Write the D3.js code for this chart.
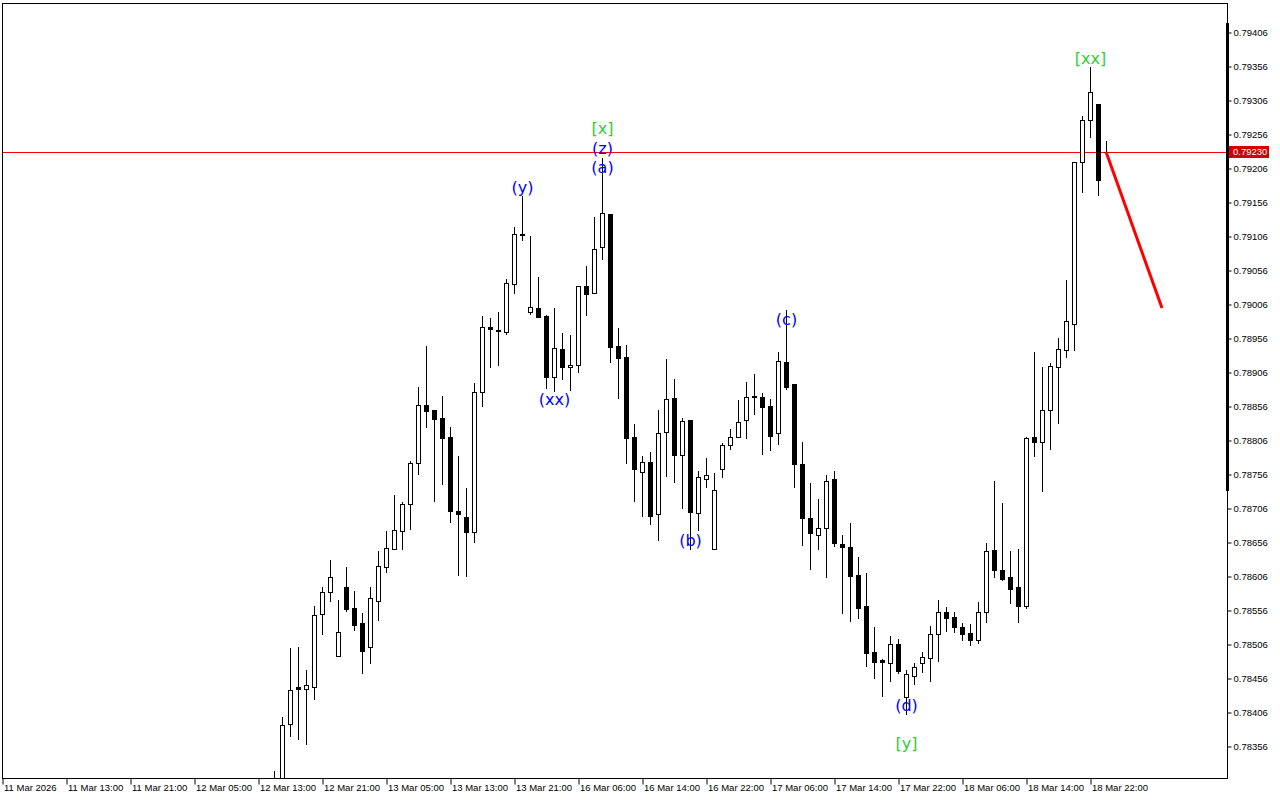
<!DOCTYPE html>
<html>
<head>
<meta charset="utf-8">
<script src="https://cdn.jsdelivr.net/npm/d3@7"></script>
<style>
  html, body { margin: 0; padding: 0; background: #ffffff; }
  svg { display: block; }
</style>
</head>
<body>
<svg id="chart" width="1280" height="800"></svg>
<script>
// ---------- DATA (hourly bars, index counted from the left edge of the chart) ----------
const firstBar = 34;
const opens = [0.78277,0.78277,0.78388,0.78443,0.78440,0.78443,0.78550,0.78582,0.78488,0.78590,
0.78559,0.78537,0.78502,0.78569,0.78619,0.78646,0.78672,0.78712,0.78772,0.78857,
0.78850,0.78838,0.78810,0.78702,0.78693,0.78671,0.78877,0.78972,0.78968,0.78965,
0.79035,0.79109,0.78994,0.79000,0.78988,0.78899,0.78940,0.78913,0.78916,0.79032,
0.79022,0.79090,0.79138,0.78944,0.78928,0.78810,0.78759,0.78774,0.78697,0.78818,
0.78868,0.78784,0.78835,0.78699,0.78749,0.78646,0.78763,0.78799,0.78810,0.78835,
0.78869,0.78869,0.78856,0.78816,0.78921,0.78888,0.78771,0.78691,0.78666,0.78677,
0.78749,0.78653,0.78649,0.78607,0.78562,0.78494,0.78482,0.78478,0.78506,0.78428,
0.78459,0.78478,0.78485,0.78521,0.78553,0.78546,0.78531,0.78522,0.78512,0.78553,
0.78644,0.78615,0.78605,0.78590,0.78562,0.78810,0.78803,0.78850,0.78913,0.78938,
0.78977,0.79215,0.79277,0.79300,0.79230];
const highs = [0.78319,0.78399,0.78500,0.78502,0.78468,0.78562,0.78590,0.78629,0.78571,0.78619,
0.78584,0.78552,0.78590,0.78643,0.78672,0.78725,0.78715,0.78775,0.78884,0.78944,
0.78850,0.78871,0.78825,0.78782,0.78735,0.78890,0.78988,0.78985,0.78994,0.79043,
0.79119,0.79165,0.79106,0.79046,0.78990,0.79000,0.78963,0.78960,0.79032,0.79062,
0.79134,0.79221,0.79138,0.78971,0.78946,0.78830,0.78782,0.78788,0.78850,0.78925,
0.78896,0.78838,0.78835,0.78760,0.78780,0.78757,0.78802,0.78822,0.78865,0.78891,
0.78903,0.78875,0.78866,0.78935,0.78997,0.78888,0.78803,0.78743,0.78719,0.78755,
0.78760,0.78666,0.78684,0.78634,0.78610,0.78531,0.78484,0.78518,0.78513,0.78468,
0.78478,0.78494,0.78532,0.78571,0.78560,0.78553,0.78537,0.78535,0.78568,0.78654,
0.78746,0.78713,0.78643,0.78646,0.78810,0.78935,0.78913,0.78919,0.78956,0.79041,
0.79215,0.79282,0.79354,0.79300,0.79246];
const lows = [0.78254,0.78262,0.78371,0.78366,0.78359,0.78425,0.78521,0.78569,0.78488,0.78554,
0.78527,0.78463,0.78478,0.78541,0.78612,0.78646,0.78646,0.78675,0.78756,0.78825,
0.78716,0.78741,0.78685,0.78607,0.78606,0.78656,0.78856,0.78913,0.78916,0.78962,
0.79022,0.79100,0.78991,0.78987,0.78882,0.78878,0.78896,0.78879,0.78906,0.78990,
0.79022,0.79072,0.78921,0.78868,0.78772,0.78716,0.78694,0.78682,0.78659,0.78753,
0.78744,0.78706,0.78646,0.78674,0.78737,0.78646,0.78752,0.78793,0.78810,0.78809,
0.78844,0.78785,0.78791,0.78800,0.78881,0.78737,0.78652,0.78616,0.78646,0.78605,
0.78650,0.78552,0.78540,0.78544,0.78474,0.78456,0.78429,0.78452,0.78463,0.78403,
0.78447,0.78465,0.78452,0.78481,0.78525,0.78524,0.78512,0.78504,0.78507,0.78538,
0.78605,0.78600,0.78566,0.78538,0.78559,0.78782,0.78731,0.78793,0.78831,0.78928,
0.78938,0.79171,0.79252,0.79166,0.79230];
const closes = [0.78299,0.78387,0.78438,0.78440,0.78446,0.78549,0.78582,0.78604,0.78524,0.78557,
0.78534,0.78496,0.78574,0.78621,0.78647,0.78674,0.78712,0.78772,0.78857,0.78849,
0.78837,0.78809,0.78702,0.78697,0.78671,0.78877,0.78972,0.78969,0.78966,0.79037,
0.79109,0.79107,0.79002,0.78987,0.78899,0.78941,0.78913,0.78916,0.79032,0.79021,
0.79087,0.79140,0.78943,0.78927,0.78809,0.78763,0.78774,0.78694,0.78816,0.78866,
0.78784,0.78834,0.78700,0.78752,0.78755,0.78733,0.78799,0.78810,0.78832,0.78869,
0.78870,0.78854,0.78812,0.78922,0.78884,0.78771,0.78691,0.78669,0.78677,0.78746,
0.78654,0.78649,0.78606,0.78559,0.78493,0.78480,0.78480,0.78506,0.78466,0.78462,
0.78472,0.78487,0.78521,0.78553,0.78544,0.78531,0.78521,0.78512,0.78553,0.78643,
0.78615,0.78602,0.78587,0.78562,0.78809,0.78803,0.78850,0.78915,0.78940,0.78981,
0.79215,0.79277,0.79318,0.79188,0.79230];

const xTickBars = [0,8,16,24,32,40,48,56,64,72,80,88,96,104,112,120,128,136];
const xTickLabels = ["11 Mar 2026","11 Mar 13:00","11 Mar 21:00","12 Mar 05:00","12 Mar 13:00",
  "12 Mar 21:00","13 Mar 05:00","13 Mar 13:00","13 Mar 21:00","16 Mar 06:00","16 Mar 14:00",
  "16 Mar 22:00","17 Mar 06:00","17 Mar 14:00","17 Mar 22:00","18 Mar 06:00","18 Mar 14:00","18 Mar 22:00"];
const yTickValues = [0.78356,0.78406,0.78456,0.78506,0.78556,0.78606,0.78656,0.78706,0.78756,0.78806,
  0.78856,0.78906,0.78956,0.79006,0.79056,0.79106,0.79156,0.79206,0.79256,0.79306,0.79356,0.79406];

const currentPrice = 0.79230;
const projBars = [138, 145];
const projPrices = [0.79230, 0.79000];

const waveLabels = ["[x]","(z)","(a)","(y)","(xx)","(b)","(c)","(d)","[y]","[xx]"];
const waveBars   = [75, 75, 75, 65, 69, 86, 98, 113, 113, 136];
const wavePrices = [0.79265,0.79235,0.79207,0.79178,0.78866,0.78659,0.78984,0.78416,0.78360,0.79368];
const waveKinds  = ["major","minor","minor","minor","minor","minor","minor","minor","major","major"];

// ---------- LAYOUT ----------
const svg = d3.select("#chart");
const plotLeft = 2, plotRight = 1227, plotTop = 3, plotBottom = 778;
const x = d3.scaleLinear().domain([0, 153]).range([2, 1226]);
const y = d3.scaleLinear().domain([0.78356, 0.79406]).range([746, 32]);
const FONT = "'Liberation Sans', Arial, sans-serif";

const bars = opens.map((o, k) => ({
  i: firstBar + k, o, h: highs[k], l: lows[k], c: closes[k]
}));

svg.append("defs").append("clipPath").attr("id", "plotClip")
  .append("rect").attr("x", plotLeft + 1).attr("y", plotTop + 1)
  .attr("width", plotRight - plotLeft - 1).attr("height", plotBottom - plotTop - 1);

const plot = svg.append("g").attr("clip-path", "url(#plotClip)");

// current price line
plot.append("line")
  .attr("x1", plotLeft).attr("x2", plotRight)
  .attr("y1", Math.round(y(currentPrice)) + 0.5).attr("y2", Math.round(y(currentPrice)) + 0.5)
  .attr("stroke", "#ff0000").attr("stroke-width", 1);

// candles
const cg = plot.append("g");
bars.forEach(b => {
  const cx = Math.round(x(b.i));
  const yh = Math.round(y(b.h)), yl = Math.round(y(b.l));
  const yo = Math.round(y(b.o)), yc = Math.round(y(b.c));
  cg.append("line")
    .attr("x1", cx + 0.5).attr("x2", cx + 0.5)
    .attr("y1", yh).attr("y2", yl + 1)
    .attr("stroke", "#000").attr("stroke-width", 1);
  const top = Math.min(yo, yc), bot = Math.max(yo, yc);
  if (bot - top < 1) {
    cg.append("line")
      .attr("x1", cx - 2).attr("x2", cx + 3)
      .attr("y1", top + 0.5).attr("y2", top + 0.5)
      .attr("stroke", "#000").attr("stroke-width", 1);
  } else {
    const bull = b.c > b.o;
    cg.append("rect")
      .attr("x", cx - 1.5).attr("y", top + 0.5)
      .attr("width", 4).attr("height", bot - top)
      .attr("fill", bull ? "#ffffff" : "#000000")
      .attr("stroke", "#000").attr("stroke-width", 1);
  }
});

// projection line
plot.append("line")
  .attr("x1", x(projBars[0])).attr("y1", y(projPrices[0]))
  .attr("x2", x(projBars[1])).attr("y2", y(projPrices[1]))
  .attr("stroke", "#ff0000").attr("stroke-width", 3).attr("stroke-linecap", "butt");

// wave labels
plot.selectAll("text.wave").data(waveLabels).enter().append("text")
  .attr("class", "wave")
  .attr("x", (d, k) => x(waveBars[k]) + 0.5)
  .attr("y", (d, k) => y(wavePrices[k]))
  .attr("dy", "0.36em")
  .attr("text-anchor", "middle")
  .attr("font-family", "'DejaVu Sans', sans-serif")
  .attr("font-size", 16)
  .attr("fill", (d, k) => waveKinds[k] === "major" ? "#32cd32" : "#0000ff")
  .text(d => d);

// frame
svg.append("rect")
  .attr("x", plotLeft + 0.5).attr("y", plotTop + 0.5)
  .attr("width", plotRight - plotLeft).attr("height", plotBottom - plotTop)
  .attr("fill", "none").attr("stroke", "#000").attr("stroke-width", 1);
// scale bar on right border
svg.append("rect")
  .attr("x", plotRight - 1).attr("y", 23)
  .attr("width", 3).attr("height", 468)
  .attr("fill", "#000");

// y axis
const yAxis = d3.axisRight(y).tickValues(yTickValues)
  .tickFormat(d3.format(".5f")).tickSize(4).tickPadding(2);
const yg = svg.append("g").attr("transform", `translate(${plotRight + 0.5},0.5)`).call(yAxis);
yg.select(".domain").remove();
yg.selectAll("text").attr("font-family", FONT).attr("font-size", 9.5).attr("fill", "#000");
yg.selectAll("line").attr("stroke", "#000");

// current price tag
const py = Math.round(y(currentPrice));
svg.append("rect").attr("x", 1229).attr("y", py - 6).attr("width", 40).attr("height", 12)
  .attr("fill", "#d00000");
svg.append("text").attr("x", 1233).attr("y", py).attr("dy", "0.35em")
  .attr("font-family", FONT).attr("font-size", 9.5).attr("fill", "#ffffff")
  .text(d3.format(".5f")(currentPrice));

// x axis
const xAxis = d3.axisBottom(x).tickValues(xTickBars)
  .tickFormat((d, k) => xTickLabels[k]).tickSize(6).tickPadding(2);
const xg = svg.append("g").attr("transform", `translate(0.5,${plotBottom + 0.5})`).call(xAxis);
xg.select(".domain").remove();
xg.selectAll("text").attr("font-family", FONT).attr("font-size", 9.5).attr("fill", "#000")
  .attr("text-anchor", "start").attr("x", 1).attr("y", 6);
xg.selectAll("line").attr("stroke", "#000");
</script>
</body>
</html>
